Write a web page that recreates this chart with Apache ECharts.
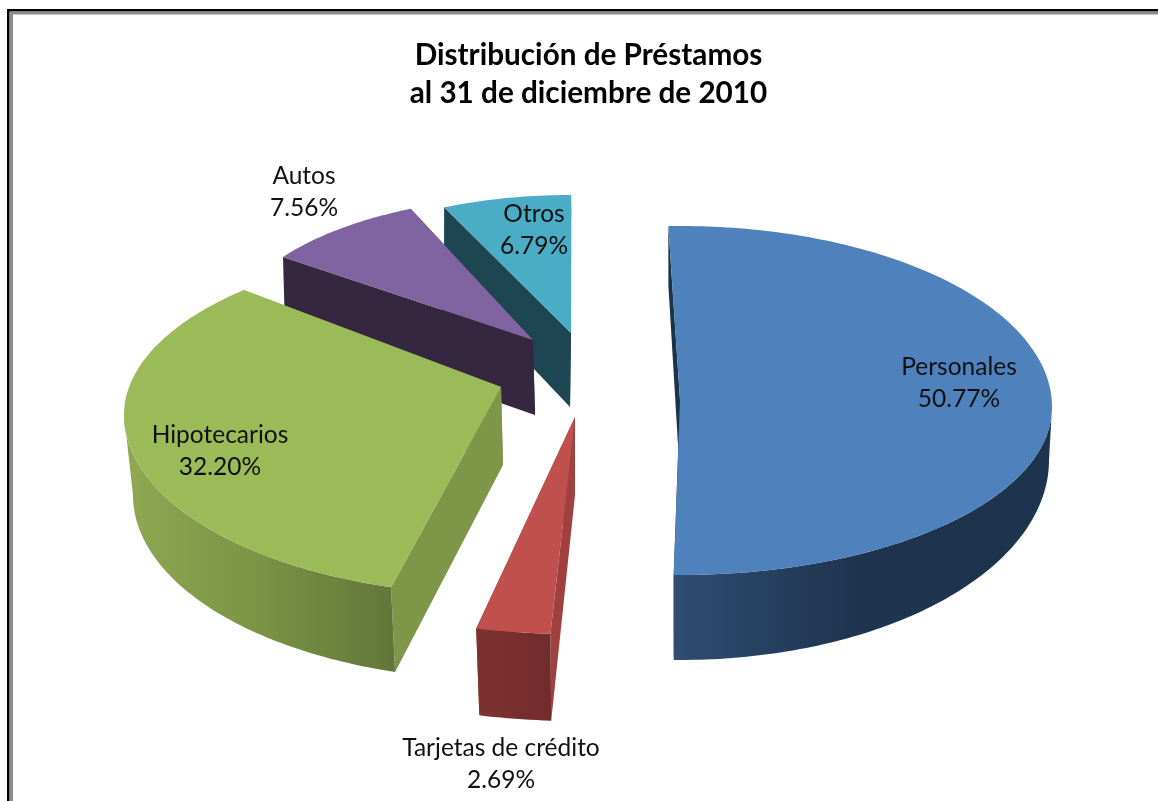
<!DOCTYPE html>
<html>
<head>
<meta charset="utf-8">
<style>
html, body { margin: 0; padding: 0; background: #fff; }
#main { width: 1158px; height: 801px; }
</style>
<script src="https://cdn.jsdelivr.net/npm/echarts@6/dist/echarts.min.js"></script>
</head>
<body>
<div id="main"></div>
<script>
var titleLines = ['Distribución de Préstamos', 'al 31 de diciembre de 2010'];
var categories = ['Personales', 'Tarjetas de crédito', 'Hipotecarios', 'Autos', 'Otros'];
var shares = [50.77, 2.69, 32.20, 7.56, 6.79];

var topColors = ['#4f81bd', '#c0504d', '#9bbb59', '#8064a2', '#4bacc6'];
var edgeColors = ['#1d3349', '#a04140', '#7e9648', '#352740', '#1e4552'];
var wallStops = [
    ['#2f4d72', '#1e334d', '#1e334d'],
    ['#7c3231', '#782f2e', '#702c2b'],
    ['#8ea853', '#7a9345', '#62763a'],
    ['#352740', '#352740', '#352740'],
    ['#1e4552', '#1e4552', '#1e4552']
];

// the exploded pie is faked per slice, perspective makes each one a bit different
// apex point of the slice, then ellipses [cx, cy, rx, ryBack, ryFront]
var topApex = [[680, 400], [575, 417], [501, 387], [533, 340], [571, 333]];
var bottomApex = [[680, 478], [575, 495], [503, 465], [535, 415], [570, 407]];
var topFaces = [
    [680, 407, 372, 181, 168],
    [575, 417, 444, 217, 217],
    [501, 415, 377, 171, 180],
    [533, 340, 307, 143, 143],
    [571, 333, 307, 138, 138]
];
var bottomFaces = [
    [680, 460, 369, 174, 200],
    [575, 495, 430, 226, 226],
    [503, 495, 370, 170, 185],
    [535, 415, 307, 150, 150],
    [570, 407, 305, 146, 146]
];
var sweepRotate = [-1.8, 0.4, 4.5, -2.9, 0];
var sweepSpread = [1, 1, 1.035, 1.14, 1];
var labelPos = [[959, 383], [501, 764], [220, 451], [304, 192], [534, 230]];

var startAngles = [];
shares.reduce(function (sum, v, i) {
    startAngles[i] = sum / 100 * 360;
    return sum + v;
}, 0);

function facePoint(face, deg) {
    var r = deg * Math.PI / 180,
        c = Math.cos(r);
    return [face[0] + face[2] * Math.sin(r), face[1] - (c > 0 ? face[3] : face[4]) * c];
}

function arcPoints(face, from, to) {
    var pts = [], n = Math.max(2, Math.ceil(Math.abs(to - from)));
    for (var i = 0; i <= n; i++) {
        pts.push(facePoint(face, from + (to - from) * i / n));
    }
    return pts;
}

function poly(points, fill) {
    return { type: 'polygon', shape: { points: points }, style: { fill: fill } };
}

function renderSlice(params, api) {
    var value = api.value(0),
        i = api.value(1),
        top = topFaces[i],
        bot = bottomFaces[i],
        a0 = startAngles[i] + sweepRotate[i],
        a1 = a0 + value / 100 * 360 * sweepSpread[i],
        children = [];

    // straight cut walls, the top face hides whichever looks away
    children.push(poly([topApex[i], facePoint(top, a0), facePoint(bot, a0), bottomApex[i]], edgeColors[i]));
    children.push(poly([topApex[i], facePoint(top, a1), facePoint(bot, a1), bottomApex[i]], edgeColors[i]));

    // outer wall, only the part facing us
    var w0 = Math.max(a0, 90), w1 = Math.min(a1, 270);
    if (w1 > w0) {
        var s = wallStops[i];
        children.push(poly(arcPoints(top, w0, w1).concat(arcPoints(bot, w1, w0)), new echarts.graphic.LinearGradient(0, 0, 1, 0, [
            { offset: 0, color: s[0] },
            { offset: 0.5, color: s[1] },
            { offset: 1, color: s[2] }
        ])));
    }

    children.push(poly([topApex[i]].concat(arcPoints(top, a0, a1)), topColors[i]));
    children.push({
        type: 'text',
        z2: 10,
        style: {
            x: labelPos[i][0],
            y: labelPos[i][1],
            text: categories[i] + '\n' + value.toFixed(2) + '%',
            fill: '#111',
            font: '24.5px Lato',
            lineHeight: 31.5,
            align: 'center',
            verticalAlign: 'middle'
        }
    });
    return { type: 'group', children: children };
}

// far slices first so the nearer ones cover them
var sliceData = shares.map(function (v, i) { return [v, i]; }).reverse();

var myChart = echarts.init(document.getElementById('main'), null, { renderer: 'canvas' });
myChart.setOption({
    backgroundColor: '#fff',
    animation: false,
    title: {
        text: titleLines.join('\n'),
        left: 583.5,
        top: 31,
        textAlign: 'center',
        textStyle: { fontFamily: 'Lato', fontWeight: 'bold', fontSize: 29.7, lineHeight: 38, color: '#000' }
    },
    graphic: [
        { type: 'rect', shape: { x: 7, y: 9, width: 2.5, height: 792 }, style: { fill: '#000' } },
        { type: 'rect', shape: { x: 7, y: 9, width: 1151, height: 2.5 }, style: { fill: '#000' } },
        { type: 'rect', shape: { x: 10, y: 12, width: 3, height: 789 }, style: { fill: '#8c8c8c' } },
        { type: 'rect', shape: { x: 10, y: 12, width: 1148, height: 2.5 }, style: { fill: '#8c8c8c' } }
    ],
    series: [{
        type: 'custom',
        coordinateSystem: 'none',
        renderItem: renderSlice,
        data: sliceData
    }]
});
</script>
</body>
</html>
